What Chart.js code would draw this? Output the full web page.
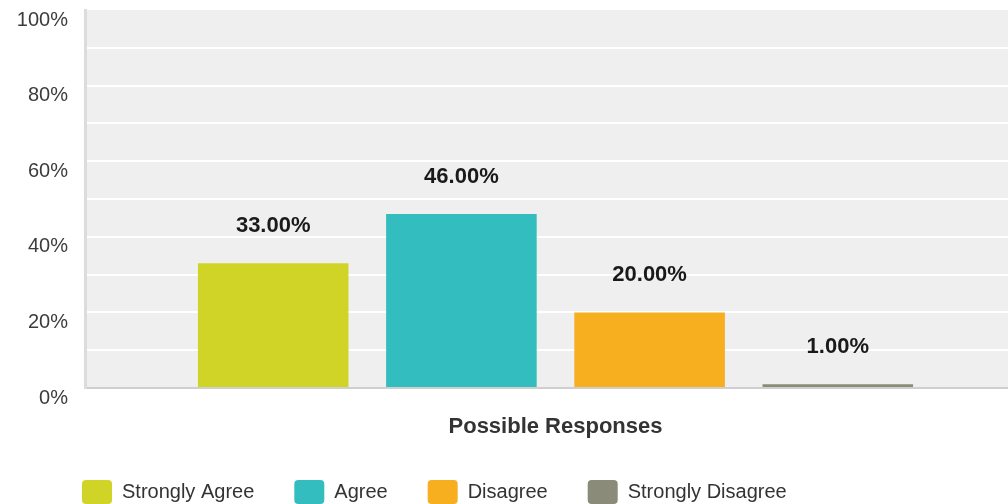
<!DOCTYPE html>
<html><head><meta charset="utf-8">
<script src="https://cdn.jsdelivr.net/npm/chart.js@4.4.1/dist/chart.umd.min.js"></script>
<style>html,body{margin:0;padding:0;overflow:hidden;background:#fff}canvas{display:block}</style>
</head><body>
<canvas id="c" width="1026" height="504"></canvas>
<script>
const categories = [''];
const seriesNames = ['Strongly Agree', 'Agree', 'Disagree', 'Strongly Disagree'];
const seriesValues = [33, 46, 20, 1];
const seriesColors = ['#d0d427', '#33bdbf', '#f7ae1f', '#8a8b79'];
const yTickLabels = ['0%', '20%', '40%', '60%', '80%', '100%'];
const xAxisTitle = 'Possible Responses';
const FONT = "'Liberation Sans', Arial, sans-serif";

const plotBg = {
  id: 'plotBg',
  beforeDraw(chart) {
    const { ctx, chartArea: a } = chart;
    ctx.save();
    ctx.fillStyle = '#efefef';
    ctx.fillRect(a.left, a.top, a.right - a.left, a.bottom - a.top);
    ctx.restore();
  }
};

const legendPlace = {
  id: 'legendPlace',
  beforeLayout(chart) {
    const lg = chart.legend;
    if (lg && !lg._patched) {
      const f = lg.fit;
      lg.fit = function () { f.call(this); this.height = 64; };
      lg._patched = true;
    }
  },
  afterLayout(chart) {
    const lg = chart.legend;
    if (!lg) return;
    const w = lg.right - lg.left;
    lg.left = 42; lg.right = 42 + w;
    lg.top = 440; lg.bottom = 504;
  }
};

const valueLabels = {
  id: 'valueLabels',
  afterDatasetsDraw(chart) {
    const ctx = chart.ctx;
    ctx.save();
    ctx.font = 'bold 22px ' + FONT;
    ctx.fillStyle = '#1a1a1a';
    ctx.textAlign = 'center';
    ctx.textBaseline = 'middle';
    chart.data.datasets.forEach((ds, i) => {
      const meta = chart.getDatasetMeta(i);
      meta.data.forEach((bar, j) => {
        ctx.fillText(ds.data[j].toFixed(2) + '%', bar.x, bar.y - 37);
      });
    });
    ctx.restore();
  }
};

new Chart(document.getElementById('c'), {
  type: 'bar',
  data: {
    labels: categories,
    datasets: seriesNames.map((name, i) => ({
      label: name,
      data: [seriesValues[i]],
      backgroundColor: seriesColors[i],
      borderWidth: 0,
      categoryPercentage: 0.8,
      barPercentage: 0.8
    }))
  },
  options: {
    responsive: false,
    animation: false,
    layout: { padding: { top: 10, left: 0, right: 0, bottom: 0 } },
    plugins: {
      legend: {
        position: 'bottom',
        align: 'start',
        labels: {
          boxWidth: 30, boxHeight: 24, padding: 40,
          useBorderRadius: true, borderRadius: 4,
          color: '#333', font: { family: FONT, size: 20 }
        }
      },
      tooltip: { enabled: false }
    },
    scales: {
      x: {
        grid: { display: false, drawTicks: false },
        border: { display: true, color: '#cfcfcf', width: 2 },
        ticks: { display: false },
        title: { display: true, text: xAxisTitle, color: '#333', font: { family: FONT, size: 22, weight: 'bold' }, padding: 0 },
        afterFit(s) { s.height = 52; }
      },
      y: {
        min: 0, max: 100,
        ticks: {
          stepSize: 10, autoSkip: false, padding: 17, labelOffset: 10,
          color: '#3c3c3c', font: { family: FONT, size: 20, lineHeight: 1 },
          callback: (v) => (v % 20 === 0 ? yTickLabels[v / 20] : '')
        },
        grid: {
          color: (c) => (c.tick && (c.tick.value === 0 || c.tick.value === 100)) ? 'rgba(0,0,0,0)' : '#ffffff',
          lineWidth: 2, drawTicks: false
        },
        border: { display: true, color: '#dcdcdc', width: 3 },
        afterFit(s) { s.width = 85; s.paddingTop = 0; s.paddingBottom = 0; }
      }
    }
  },
  plugins: [plotBg, legendPlace, valueLabels]
});
</script>
</body></html>
